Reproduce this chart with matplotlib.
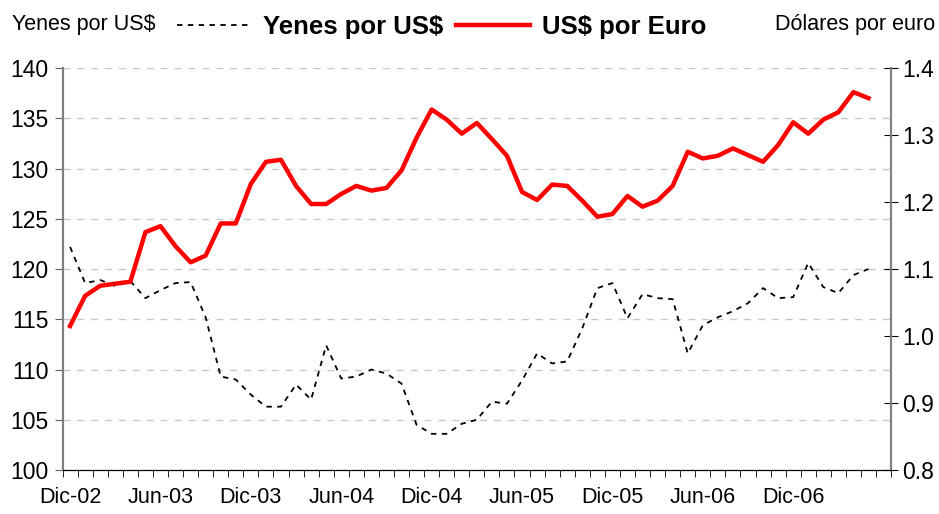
import numpy as np
import matplotlib.pyplot as plt
from matplotlib.lines import Line2D
from matplotlib.ticker import FormatStrFormatter

plt.rcParams['font.family'] = ['Liberation Sans', 'DejaVu Sans']

# meses Dic-02 .. May-07 (el eje llega hasta Jun-07)
yenes = [122.2, 118.6, 118.9, 118.3, 118.8, 117.1, 117.9, 118.6, 118.7, 115.2,
         109.3, 109.0, 107.5, 106.3, 106.3, 108.5, 107.0, 112.4, 109.1, 109.3,
         110.0, 109.6, 108.6, 104.5, 103.6, 103.6, 104.6, 105.0, 106.8, 106.6,
         108.9, 111.6, 110.6, 110.8, 114.1, 118.1, 118.6, 115.1, 117.5, 117.1,
         117.0, 111.6, 114.4, 115.2, 115.8, 116.6, 118.1, 117.1, 117.2, 120.6,
         118.2, 117.6, 119.4, 120.0]
euro = [1.015, 1.060, 1.075, 1.078, 1.081, 1.155, 1.164, 1.134, 1.110, 1.120,
        1.168, 1.168, 1.227, 1.260, 1.263, 1.224, 1.197, 1.197, 1.212, 1.224,
        1.217, 1.221, 1.247, 1.296, 1.338, 1.323, 1.302, 1.318, 1.294, 1.269,
        1.215, 1.203, 1.226, 1.224, 1.202, 1.178, 1.182, 1.209, 1.193, 1.202,
        1.224, 1.275, 1.265, 1.269, 1.280, 1.270, 1.260, 1.285, 1.319, 1.302,
        1.323, 1.334, 1.364, 1.355]
etiquetas = ['Dic-02', 'Jun-03', 'Dic-03', 'Jun-04', 'Dic-04', 'Jun-05',
             'Dic-05', 'Jun-06', 'Dic-06']
n_meses = 55

fig = plt.figure(figsize=(9.39, 5.14), dpi=100)
ax = fig.add_axes([0.0666, 0.0856, 0.8824, 0.7821])
ax2 = ax.twinx()

x = np.arange(len(yenes))
ax.plot(x, yenes, color='black', lw=1.3, linestyle=(0, (3, 3)))
ax2.plot(x, euro, color='#ff0000', lw=3.2, solid_joinstyle='round')

ax.set_xlim(-0.5, n_meses - 0.5)
ax.set_ylim(100, 140)
ax.set_yticks(np.arange(100, 141, 5))
ax2.set_ylim(0.8, 1.4)
ax2.set_yticks(np.arange(0.8, 1.41, 0.1))
ax2.yaxis.set_major_formatter(FormatStrFormatter('%.1f'))

ax.set_xticks(np.arange(0, len(etiquetas) * 6, 6))
ax.set_xticklabels(etiquetas)
ax.set_xticks(np.arange(-0.5, n_meses, 1), minor=True)
ax.tick_params(axis='x', which='major', length=0, labelsize=15.5, pad=12)
ax.tick_params(axis='x', which='minor', length=5, direction='out', color='black')
ax.tick_params(axis='y', labelsize=16.5, length=6, direction='out', color='#606060', pad=4)
ax2.tick_params(axis='y', labelsize=16.5, length=10, direction='inout', color='black', pad=3)

ax.yaxis.grid(True, color='#c8c8c8', linestyle=(0, (5, 5)), lw=1)
ax.set_axisbelow(True)

for a in (ax, ax2):
    a.spines['top'].set_visible(False)
    a.spines['left'].set_color('#808080')
    a.spines['right'].set_color('#808080')
    a.spines['left'].set_linewidth(1.5)
    a.spines['right'].set_linewidth(1.5)
    a.spines['bottom'].set_color('black')

fig.text(0.013, 0.952, 'Yenes por US$', fontsize=15.5, va='center')
fig.text(0.996, 0.952, 'Dólares por euro', fontsize=15.5, va='center', ha='right')

handles = [Line2D([], [], color='black', lw=1.3, linestyle=(0, (3, 3))),
           Line2D([], [], color='#ff0000', lw=3.2)]
fig.legend(handles, ['Yenes por US$', 'US$ por Euro'], ncol=2, frameon=False,
           loc='center', bbox_to_anchor=(0.47, 0.947),
           prop={'weight': 'bold', 'size': 18.5}, handlelength=2.9,
           handletextpad=0.45, columnspacing=0.5)

fig.savefig('out.png', dpi=100)
